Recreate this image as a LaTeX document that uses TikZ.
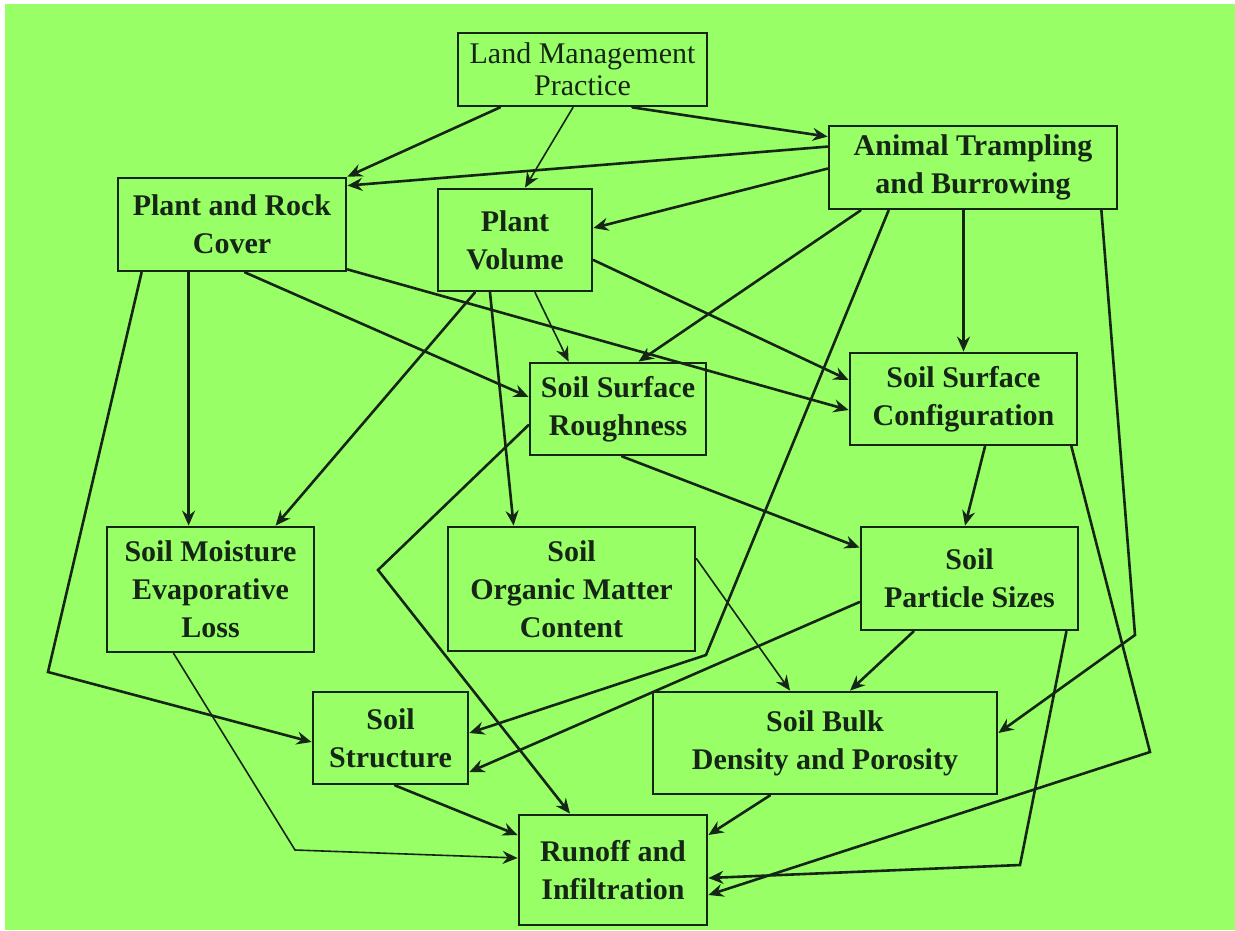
\documentclass[tikz,border=0pt]{standalone}
\usepackage{fontspec}
\setmainfont{Liberation Serif}
\usepackage{xcolor}
\definecolor{Col1}{RGB}{153,255,102}
\definecolor{Col2}{RGB}{22,38,22}
\usepackage{tikz}
\usetikzlibrary{arrows.meta}
\tikzstyle{Box}=[rectangle,draw=Col2,line width=2.8pt,inner sep=0pt,
align=center,text=Col2,font=\fontsize{30}{38}\selectfont\bfseries]
\tikzstyle{Edge}=[draw=Col2,line width=2.6pt,line cap=round,
-{Stealth[length=15pt,width=13pt,inset=5pt]}]
\tikzstyle{ThinEdge}=[Edge,line width=1.6pt]

\begin{document}
\begin{tikzpicture}[x=1pt,y=-1pt]
        \useasboundingbox[fill=white](0,0)rectangle(1235,930);
        \fill[Col1](5,4)rectangle(1235,930);
        \node[Box,minimum width=249,minimum height=73,
          font=\fontsize{30}{32}\selectfont\mdseries](LMP)at(582.5,69.5){Land Management\\Practice};
        \node[Box,minimum width=288,minimum height=83](ATB)at(973,167.5){Animal Trampling\\and Burrowing};
        \node[Box,minimum width=228,minimum height=93](PRC)at(232,224.5){Plant and Rock\\Cover};
        \node[Box,minimum width=154,minimum height=102](PV)at(515,240){Plant\\Volume};
        \node[Box,minimum width=176,minimum height=92](SSR)at(618,409){Soil Surface\\Roughness};
        \node[Box,minimum width=227,minimum height=92](SSC)at(963.5,399){Soil Surface\\Configuration};
        \node[Box,minimum width=207,minimum height=125](SME)at(210.5,589.5){Soil Moisture\\Evaporative\\Loss};
        \node[Box,minimum width=247,minimum height=124](SOM)at(571.5,589){Soil\\Organic Matter\\Content};
        \node[Box,minimum width=217,minimum height=103](SPS)at(969.5,578.5){Soil\\Particle Sizes};
        \node[Box,minimum width=155,minimum height=92](SS)at(390.5,738){Soil\\Structure};
        \node[Box,minimum width=344,minimum height=102](SBD)at(825,743){Soil Bulk\\Density and Porosity};
        \node[Box,minimum width=188,minimum height=110](RI)at(613,870){Runoff and\\Infiltration};
        \coordinate(b1)at(706,655);
        \coordinate(b2)at(1135,635);
        \coordinate(b3)at(48,672);
        \coordinate(b4)at(378,570);
        \coordinate(b5)at(1150,752);
        \coordinate(b6)at(1020,865);
        \coordinate(b7)at(295,850);
        \draw[Edge]([xshift=-82.5]LMP.south)--(PRC.north east);
        \draw[ThinEdge]([xshift=-9.5]LMP.south)--([xshift=10]PV.north);
        \draw[Edge]([xshift=50]LMP.south)--([yshift=-12]ATB.north west);
        \draw[Edge]([yshift=-22]ATB.north west)--([yshift=-9]PRC.north east);
        \draw[Edge]([yshift=-44]ATB.north west)--([yshift=12]PV.east);
        \draw[Edge]([xshift=33]ATB.south west)--([xshift=110]SSR.north west);
        \draw[Edge]([xshift=61]ATB.south west)--(b1)--([yshift=5]SS.east);
        \draw[Edge](SSC.north|-ATB.south)--(SSC.north);
        \draw[Edge]([xshift=-17]ATB.south east)--(b2)--([yshift=10]SBD.east);
        \draw[Edge]([xshift=25]PRC.south west)--(b3)--([yshift=-4]SS.west);
        \draw[Edge]([xshift=72]PRC.south west)--([xshift=83]SME.north west);
        \draw[Edge]([xshift=13]PRC.south)--([yshift=12]SSR.west);
        \draw[Edge]([yshift=3]PRC.south east)--([yshift=-11]SSC.west);
        \draw[Edge]([xshift=-40]PV.south)--([xshift=170]SME.north west);
        \draw[Edge]([xshift=-25]PV.south)--([xshift=67]SOM.north west);
        \draw[ThinEdge]([xshift=20]PV.south)--([xshift=40]SSR.north west);
        \draw[Edge]([yshift=-20]PV.east)--([yshift=19]SSC.west);
        \draw[Edge]([xshift=4]SSR.south)--([yshift=-22]SPS.north west);
        \draw[Edge]([yshift=-16]SSR.west)--(b4)--([xshift=-43]RI.north);
        \draw[Edge]([xshift=21.5]SSC.south)--([xshift=-4.5]SPS.north);
        \draw[Edge]([xshift=-7]SSC.south east)--(b5)--([yshift=-25]RI.east);
        \draw[Edge]([yshift=-23.5]SPS.west)--([yshift=-34]SS.east);
        \draw[Edge]([xshift=54]SPS.south west)--([xshift=25]SBD.north);
        \draw[Edge]([xshift=-13]SPS.south east)--(b6)--([yshift=-8]RI.east);
        \draw[ThinEdge]([yshift=-33]SOM.north east)--([xshift=-35]SBD.north);
        \draw[ThinEdge]([xshift=68]SME.south west)--(b7)--([yshift=12]RI.west);
        \draw[Edge]([xshift=4.5]SS.south)--([yshift=35]RI.west);
        \draw[Edge]([xshift=-55]SBD.south)--([yshift=35]RI.east);
\end{tikzpicture}
\end{document}
